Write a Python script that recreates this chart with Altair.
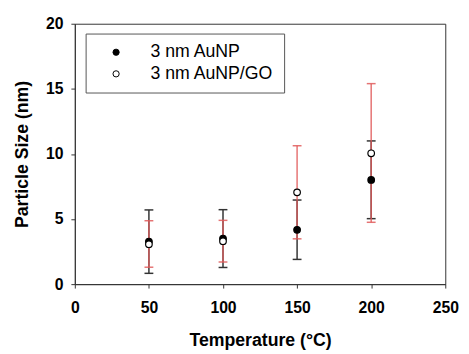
import altair as alt
import pandas as pd

temps = [50, 100, 150, 200]
aunp_mean = [3.27, 3.5, 4.17, 8.0]
aunp_low = [0.83, 1.28, 1.9, 5.03]
aunp_high = [5.7, 5.72, 6.46, 11.0]
go_mean = [3.07, 3.3, 7.05, 10.05]
go_low = [1.3, 1.7, 3.48, 4.75]
go_high = [4.87, 4.9, 10.63, 15.4]
series = ["3 nm AuNP", "3 nm AuNP/GO"]

pts = pd.DataFrame({
    "T": temps + temps,
    "size": aunp_mean + go_mean,
    "series": [series[0]] * 4 + [series[1]] * 4,
})
err_a = pd.DataFrame({"T": temps, "lo": aunp_low, "hi": aunp_high})
err_g = pd.DataFrame({"T": temps, "lo": go_low, "hi": go_high})

FONT = "Liberation Sans"
xs = alt.Scale(domain=[0, 250], nice=False, padding=0)
ys = alt.Scale(domain=[0, 20], nice=False, padding=0)
xax = alt.Axis(values=[0, 50, 100, 150, 200, 250], title="Temperature (°C)", labelFlush=False)
yax = alt.Axis(values=[0, 5, 10, 15, 20], title="Particle Size (nm)", labelFlush=False)


def errlayers(df, color, opacity):
    base = alt.Chart(df)
    rule = base.mark_rule(color=color, strokeWidth=1.5, opacity=opacity).encode(
        x=alt.X("T:Q", scale=xs, axis=xax),
        y=alt.Y("lo:Q", scale=ys, axis=yax),
        y2="hi:Q",
    )
    cap_lo = base.mark_tick(color=color, orient="horizontal", size=9, thickness=1.5, opacity=opacity).encode(
        x=alt.X("T:Q", scale=xs), y=alt.Y("lo:Q", scale=ys)
    )
    cap_hi = base.mark_tick(color=color, orient="horizontal", size=9, thickness=1.5, opacity=opacity).encode(
        x=alt.X("T:Q", scale=xs), y=alt.Y("hi:Q", scale=ys)
    )
    return rule + cap_lo + cap_hi


black_err = errlayers(err_a, "#333333", 1.0)
red_err = errlayers(err_g, "#e05a5a", 0.85)

points = alt.Chart(pts).mark_point(filled=True, size=45, stroke="black", strokeWidth=1.2, opacity=1).encode(
    x=alt.X("T:Q", scale=xs),
    y=alt.Y("size:Q", scale=ys),
    fill=alt.Fill(
        "series:N",
        scale=alt.Scale(domain=series, range=["black", "white"]),
        legend=alt.Legend(
            title=None,
            orient="none",
            legendX=11,
            legendY=10,
            strokeColor="#555555",
            fillColor="white",
            padding=10,
            labelFont=FONT,
            labelFontSize=18,
            labelColor="black",
            symbolType="circle",
            symbolSize=40,
            symbolStrokeColor="black",
            symbolStrokeWidth=1,
            symbolOffset=12,
            labelOffset=26,
            rowPadding=4,
        ),
    ),
)

chart = (
    alt.layer(black_err, red_err, points)
    .properties(
        width=377,
        height=265,
        autosize="none",
        padding={"left": 68, "top": 13, "right": 16, "bottom": 64},
    )
    .configure_view(stroke="#333333", strokeWidth=1)
    .configure_axis(
        labelFont=FONT,
        labelFontSize=16,
        labelFontWeight="bold",
        labelColor="black",
        titleFont=FONT,
        titleFontSize=18,
        titleFontWeight="bold",
        titleColor="black",
        domainColor="#333333",
        tickColor="#333333",
        tickSize=4,
        grid=False,
    )
    .configure_axisX(labelPadding=12, titlePadding=16)
    .configure_axisY(labelPadding=8, titlePadding=14)
)

chart.save("out.html", embed_options={"renderer": "svg", "actions": False})
